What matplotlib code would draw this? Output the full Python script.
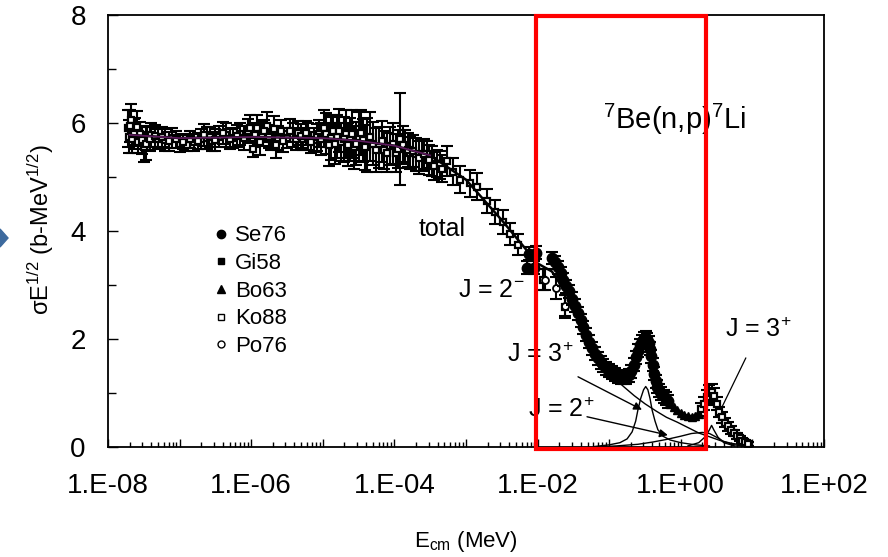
import numpy as np
import matplotlib
matplotlib.use('Agg')
import matplotlib.pyplot as plt
from matplotlib.patches import Rectangle, Polygon
from matplotlib.lines import Line2D
from matplotlib.ticker import LogLocator, FuncFormatter, MultipleLocator, NullFormatter

plt.rcParams['font.family'] = ['Liberation Sans', 'DejaVu Sans']
plt.rcParams['mathtext.fontset'] = 'custom'
plt.rcParams['mathtext.rm'] = 'Liberation Sans'
plt.rcParams['mathtext.it'] = 'Liberation Sans:italic'
plt.rcParams['mathtext.bf'] = 'Liberation Sans:bold'

# ---- data (log10 of E_cm in MeV, sigma*sqrt(E), error) ----
ko88_logE = [-7.72, -7.70, -7.68, -7.66, -7.62, -7.58, -7.55, -7.50, -7.45, -7.40,
             -7.30, -7.20, -7.10, -7.00, -6.90, -6.80, -6.70, -6.62, -6.55, -6.45,
             -6.35, -6.25, -6.15, -6.05, -5.98, -5.92, -5.85, -5.78, -5.72, -5.65,
             -5.58, -5.50, -5.42, -5.35, -5.28, -5.20, -5.12, -5.05, -4.98, -4.92,
             -4.86, -4.80, -4.74, -4.68, -4.62, -4.56, -4.50, -4.44, -4.38, -4.30,
             -4.22, -4.14, -4.06, -3.98, -3.92, -3.85, -3.78, -3.70, -3.62, -3.55,
             -3.48, -3.40, -3.27, -3.18, -3.08, -2.95, -2.85, -2.71, -2.60, -2.49,
             -2.38, -2.28, -1.92, -1.62]
ko88_y = [5.90, 5.75, 6.05, 5.70, 5.85, 5.65, 5.80, 5.55, 5.72, 5.78,
          5.70, 5.68, 5.72, 5.62, 5.60, 5.64, 5.70, 5.72, 5.66, 5.75,
          5.78, 5.72, 5.80, 5.85, 5.52, 5.90, 5.80, 5.95, 5.70, 5.60,
          5.85, 5.72, 5.78, 5.82, 5.70, 5.75, 5.68, 5.80, 5.90, 5.60,
          5.85, 5.75, 5.65, 5.80, 5.70, 5.55, 5.75, 5.68, 5.60, 5.62,
          5.55, 5.50, 5.58, 5.45, 5.70, 5.57, 5.45, 5.42, 5.40, 5.42,
          5.30, 5.25, 5.29, 5.10, 4.95, 4.88, 4.82, 4.55, 4.35, 4.16,
          3.95, 3.75, 3.10, 2.60]
ko88_err = [0.35, 0.30, 0.30, 0.25, 0.25, 0.20, 0.22, 0.28, 0.22, 0.22,
            0.18, 0.20, 0.18, 0.15, 0.12, 0.15, 0.18, 0.20, 0.18, 0.20,
            0.22, 0.18, 0.20, 0.22, 0.15, 0.25, 0.22, 0.25, 0.20, 0.25,
            0.20, 0.18, 0.22, 0.22, 0.20, 0.25, 0.22, 0.25, 0.35, 0.40,
            0.30, 0.40, 0.35, 0.45, 0.40, 0.40, 0.45, 0.40, 0.50, 0.40,
            0.38, 0.35, 0.35, 0.35, 0.85, 0.30, 0.30, 0.30, 0.28, 0.25,
            0.28, 0.25, 0.28, 0.25, 0.25, 0.25, 0.25, 0.22, 0.22, 0.22,
            0.20, 0.20, 0.20, 0.22]

# second run of the same measurement (interleaved energies)
ko88b_logE = [-7.69, -7.64, -7.60, -7.52, -7.47, -7.42, -7.35, -7.25, -7.15, -7.05,
              -6.95, -6.85, -6.75, -6.66, -6.58, -6.50, -6.40, -6.30, -6.20, -6.10,
              -6.02, -5.95, -5.88, -5.82, -5.75, -5.68, -5.62, -5.55, -5.46, -5.38,
              -5.31, -5.24, -5.16, -5.08, -5.02, -4.95, -4.89, -4.83, -4.77, -4.71,
              -4.65, -4.59, -4.53, -4.47, -4.41, -4.34, -4.26, -4.18, -4.10, -4.02,
              -3.95, -3.88, -3.81, -3.74, -3.66, -3.58, -3.51, -3.44, -3.36, -3.33]
ko88b_y = [5.95, 5.80, 5.92, 5.68, 5.62, 5.70, 5.76, 5.74, 5.66, 5.70,
           5.65, 5.70, 5.66, 5.78, 5.74, 5.68, 5.82, 5.70, 5.76, 5.72,
           5.90, 5.78, 5.65, 5.85, 5.75, 5.88, 5.72, 5.66, 5.86, 5.70,
           5.76, 5.82, 5.64, 5.74, 5.70, 5.80, 5.72, 5.62, 5.86, 5.70,
           5.60, 5.80, 5.62, 5.82, 5.55, 5.75, 5.50, 5.66, 5.45, 5.62,
           5.52, 5.60, 5.50, 5.48, 5.36, 5.42, 5.32, 5.20, 5.22, 5.15]
ko88b_err = [0.30, 0.28, 0.30, 0.25, 0.30, 0.22, 0.20, 0.18, 0.18, 0.16,
             0.14, 0.16, 0.15, 0.20, 0.18, 0.20, 0.20, 0.18, 0.20, 0.22,
             0.25, 0.22, 0.25, 0.20, 0.22, 0.25, 0.22, 0.20, 0.22, 0.20,
             0.22, 0.22, 0.20, 0.25, 0.30, 0.38, 0.40, 0.38, 0.40, 0.42,
             0.40, 0.45, 0.40, 0.42, 0.42, 0.45, 0.40, 0.38, 0.36, 0.38,
             0.35, 0.35, 0.32, 0.30, 0.30, 0.28, 0.28, 0.26, 0.26, 0.25]

ko88_hi_logE = [0.28, 0.32, 0.36, 0.40, 0.43, 0.46, 0.50, 0.54, 0.58, 0.62,
                0.66, 0.70, 0.74, 0.78, 0.82, 0.86, 0.90, 0.94]
ko88_hi_y = [0.70, 0.80, 0.92, 1.00, 1.02, 0.95, 0.80, 0.65, 0.55, 0.45,
             0.38, 0.32, 0.26, 0.20, 0.16, 0.12, 0.09, 0.06]
ko88_hi_err = [0.12, 0.12, 0.14, 0.15, 0.15, 0.14, 0.12, 0.10, 0.10, 0.08,
               0.08, 0.07, 0.06, 0.06, 0.05, 0.05, 0.04, 0.04]

po76_logE = [-1.90, -1.75, -1.62]
po76_y = [3.10, 2.95, 2.62]
po76_err = [0.20, 0.20, 0.20]

se76_logE = [-2.15, -2.12, -2.05, -2.02, -1.80, -1.76, -1.72, -1.68, -1.64, -1.60,
             -1.56, -1.52, -1.48, -1.44, -1.40, -1.36, -1.32, -1.28, -1.24, -1.20,
             -1.16, -1.12, -1.08, -1.04, -1.00, -0.96, -0.92, -0.88, -0.84, -0.80,
             -0.76, -0.72, -0.69, -0.66, -0.63, -0.60, -0.57, -0.54, -0.51, -0.49,
             -0.47, -0.45, -0.43, -0.41, -0.39, -0.37, -0.35, -0.33, -0.30, -0.27,
             -0.24, -0.21, -0.18]
se76_y = [3.32, 3.58, 3.32, 3.60, 3.50, 3.42, 3.33, 3.22, 3.10, 2.98,
          2.88, 2.75, 2.62, 2.48, 2.35, 2.22, 2.08, 1.95, 1.83, 1.73,
          1.64, 1.57, 1.51, 1.46, 1.42, 1.38, 1.34, 1.31, 1.29, 1.28,
          1.29, 1.33, 1.40, 1.52, 1.66, 1.78, 1.88, 1.96, 2.01, 2.02,
          2.00, 1.93, 1.82, 1.68, 1.52, 1.36, 1.22, 1.12, 1.05, 0.99,
          0.94, 0.89, 0.85]
se76_err = 0.12

bo63_logE = [-0.15, -0.10, -0.05, 0.00, 0.05, 0.10, 0.15, 0.20, 0.25]
bo63_y = [0.80, 0.74, 0.68, 0.63, 0.60, 0.57, 0.56, 0.58, 0.62]

total_logE = [-7.70, -7.00, -6.00, -5.00, -4.50, -4.00, -3.50, -3.00, -2.50, -2.00,
              -1.80, -1.60, -1.40, -1.20, -1.00, -0.80, -0.70, -0.60, -0.53, -0.49,
              -0.45, -0.40, -0.35, -0.30, -0.20, -0.10, 0.00, 0.10, 0.20, 0.30,
              0.38, 0.43, 0.48, 0.55, 0.65, 0.75, 0.85, 0.95]
total_y = [5.78, 5.72, 5.74, 5.72, 5.67, 5.58, 5.40, 4.95, 4.20, 3.40,
           3.25, 2.85, 2.30, 1.75, 1.42, 1.28, 1.36, 1.75, 1.97, 2.02,
           1.93, 1.65, 1.22, 1.04, 0.88, 0.75, 0.64, 0.57, 0.58, 0.72,
           0.95, 1.02, 0.90, 0.65, 0.42, 0.25, 0.14, 0.06]

j2m_logE = [-1.30, -1.10, -0.95, -0.80, -0.65, -0.50, -0.35, -0.20, -0.05, 0.10,
            0.25, 0.40, 0.55, 0.70, 0.85]
j2m_y = [2.00, 1.55, 1.30, 1.12, 0.95, 0.80, 0.67, 0.55, 0.46, 0.36,
         0.26, 0.19, 0.12, 0.07, 0.04]

j3p_logE = [-1.20, -1.00, -0.85, -0.75, -0.68, -0.63, -0.60, -0.56, -0.52, -0.49,
            -0.46, -0.43, -0.40, -0.36, -0.32, -0.25, -0.15, 0.00, 0.20, 0.40]
j3p_y = [0.01, 0.04, 0.08, 0.15, 0.28, 0.48, 0.68, 0.90, 1.06, 1.12,
         1.06, 0.90, 0.68, 0.48, 0.32, 0.20, 0.13, 0.08, 0.04, 0.02]

j2p_logE = [-1.20, -0.90, -0.60, -0.40, -0.20, 0.00, 0.15, 0.30, 0.40, 0.50,
            0.60, 0.75, 0.90]
j2p_y = [0.00, 0.02, 0.05, 0.09, 0.14, 0.20, 0.25, 0.27, 0.25, 0.18,
         0.10, 0.04, 0.01]

j3p2_logE = [0.10, 0.25, 0.35, 0.40, 0.43, 0.46, 0.52, 0.60, 0.75]
j3p2_y = [0.02, 0.08, 0.20, 0.32, 0.40, 0.32, 0.18, 0.08, 0.02]

legend_labels = ['Se76', 'Gi58', 'Bo63', 'Ko88', 'Po76']


def E(logs):
    return 10.0 ** np.asarray(logs)


W, H = 888, 557
fig = plt.figure(figsize=(W / 100, H / 100), dpi=100)
ax = fig.add_axes([108 / W, 1 - 447 / H, (824 - 108) / W, (447 - 15) / H])

eb = dict(fmt='none', ecolor='black', elinewidth=1.5, capsize=4.5, capthick=1.5)

# low energy data
for lx, ly, le in [(ko88_logE, ko88_y, ko88_err), (ko88b_logE, ko88b_y, ko88b_err)]:
    ax.errorbar(E(lx), ly, yerr=le, zorder=2, **eb)
    ax.plot(E(lx), ly, 's', ms=5, mfc='white', mec='black', mew=1.6, zorder=3)

ax.errorbar(E(po76_logE), po76_y, yerr=po76_err, zorder=2, **eb)
ax.plot(E(po76_logE), po76_y, 'o', ms=5, mfc='white', mec='black', mew=1.3, zorder=3)

# total curve
ax.plot(E(total_logE), total_y, '-', color='black', lw=1.8, zorder=4)
ax.plot(E(total_logE[:7]), total_y[:7], '-', color='#5e1a5e', lw=1.2, zorder=4)

# Se76
ax.errorbar(E(se76_logE), se76_y, yerr=se76_err, zorder=5, **eb)
ax.plot(E(se76_logE), se76_y, 'o', ms=7.5, color='black', zorder=5)

# Bo63
ax.plot(E(bo63_logE), bo63_y, '^', ms=6, color='black', zorder=5)

# high energy squares
ax.errorbar(E(ko88_hi_logE), ko88_hi_y, yerr=ko88_hi_err, zorder=5, **eb)
ax.plot(E(ko88_hi_logE), ko88_hi_y, 's', ms=5, mfc='white', mec='black', mew=1.6, zorder=5)

# partial waves
for lx, ly in [(j2m_logE, j2m_y), (j3p_logE, j3p_y), (j2p_logE, j2p_y), (j3p2_logE, j3p2_y)]:
    ax.plot(E(lx), ly, '-', color='black', lw=1.0, zorder=4)

# annotations
ax.text(4.6e-4, 4.03, 'total', fontsize=18, ha='center', va='center')
ax.text(7.7e-4, 2.91, 'J = 2$^{\\mathrm{-}}$', fontsize=18, ha='left', va='center')
ax.text(3.7e-3, 1.71, 'J = 3$^{+}$', fontsize=18, ha='left', va='center')
ax.text(7.3e-3, 0.69, 'J = 2$^{+}$', fontsize=18, ha='left', va='center')
ax.text(4.1, 2.17, 'J = 3$^{+}$', fontsize=18, ha='left', va='center')
ax.text(0.082, 6.07, '$^{7}$Be(n,p)$^{7}$Li', fontsize=21, ha='left', va='center')

arrow = dict(arrowstyle='-|>', color='black', lw=1.0, mutation_scale=12, shrinkA=0, shrinkB=0)
ax.annotate('', xy=(0.287, 0.69), xytext=(0.0367, 1.30), arrowprops=arrow, zorder=6)
ax.annotate('', xy=(0.66, 0.22), xytext=(0.049, 0.56), arrowprops=arrow, zorder=6)
ax.annotate('', xy=(3.76, 0.74), xytext=(8.1, 1.65),
            arrowprops=dict(arrowstyle='-', color='black', lw=0.9, shrinkA=0, shrinkB=0), zorder=6)

# legend
handles = [
    Line2D([], [], ls='none', marker='o', ms=6, color='black'),
    Line2D([], [], ls='none', marker='s', ms=5, color='black'),
    Line2D([], [], ls='none', marker='^', ms=5.5, color='black'),
    Line2D([], [], ls='none', marker='s', ms=5, mfc='white', mec='black', mew=1.0),
    Line2D([], [], ls='none', marker='o', ms=5, mfc='white', mec='black', mew=1.0),
]
ax.legend(handles, legend_labels, loc='upper left', bbox_to_anchor=(0.146, 0.513),
          frameon=False, fontsize=16, handlelength=0.8, handletextpad=0.22,
          labelspacing=0.3, borderpad=0, borderaxespad=0)

# axes
ax.set_xscale('log')
ax.set_xlim(1e-8, 1e2)
ax.set_ylim(0, 8)
ax.xaxis.set_major_locator(LogLocator(base=10, numticks=20))
ax.xaxis.set_minor_locator(LogLocator(base=10, subs=np.arange(2, 10), numticks=20))
ax.xaxis.set_minor_formatter(NullFormatter())


def fmt_x(v, pos):
    p = int(round(np.log10(v)))
    if p % 2:
        return ''
    return '1.E%+03d' % p


ax.xaxis.set_major_formatter(FuncFormatter(fmt_x))
ax.yaxis.set_major_locator(MultipleLocator(2))
ax.yaxis.set_minor_locator(MultipleLocator(1))

ax.tick_params(axis='x', which='major', direction='in', length=5.5, width=1, labelsize=20, pad=19,
               top=False)
ax.tick_params(axis='x', which='minor', direction='in', length=3.5, width=1, top=False)
ax.tick_params(axis='y', which='major', direction='in', length=7, width=1, labelsize=20, pad=16,
               right=False)
ax.tick_params(axis='y', which='minor', direction='in', length=6, width=1, right=False)
for s in ax.spines.values():
    s.set_linewidth(1.3)

fig.text(41 / W, 1 - 230 / H, 'σE$^{1/2}$ (b-MeV$^{1/2}$)', rotation=90, fontsize=17,
         ha='center', va='center')
fig.text(466 / W, 1 - 541 / H, 'E$_{\\mathrm{cm}}$ (MeV)', fontsize=16, ha='center', va='center')

# red highlight box and blue marker
fig.add_artist(Rectangle((536 / W, 1 - 449 / H), (706 - 536) / W, (449 - 16) / H,
                         transform=fig.transFigure, fill=False, ec='#ff0000', lw=3, zorder=20))
fig.add_artist(Polygon([(0, 1 - 229 / H), (8 / W, 1 - 238 / H), (0, 1 - 247 / H)],
                       closed=True, transform=fig.transFigure, color='#3d6a9e', zorder=20))

fig.savefig('out.png', dpi=100)
